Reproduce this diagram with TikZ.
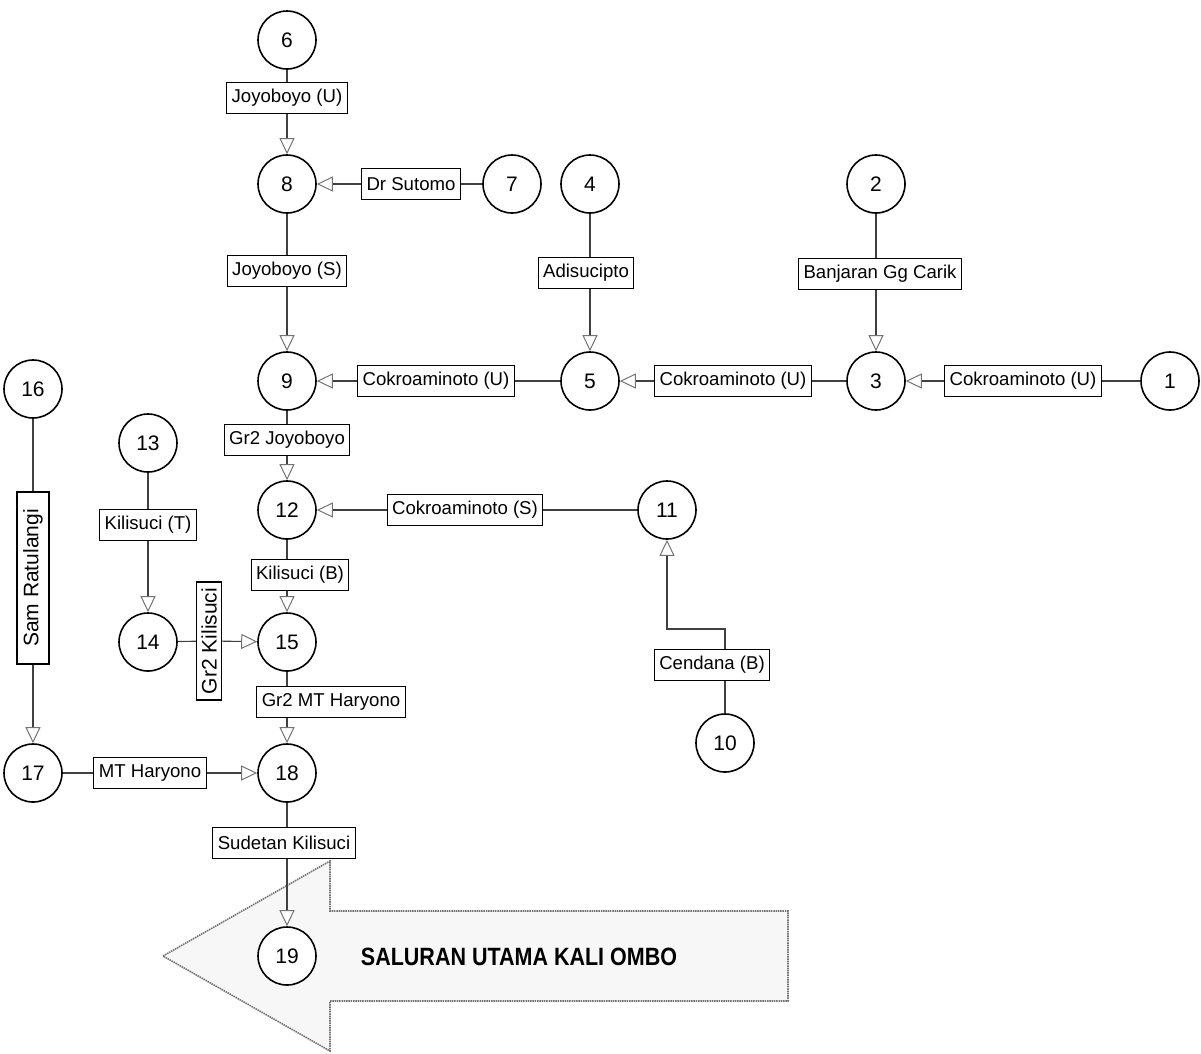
\documentclass[tikz,border=0pt]{standalone}
\usepackage{fontspec}
\setmainfont{Liberation Sans}
\newfontfamily\judulfont[FakeStretch=0.86]{Liberation Sans}
\usetikzlibrary{arrows.meta, calc, positioning}

\begin{document}
\begin{tikzpicture}[
    x=1pt, y=-1pt,
    simpul/.style={circle, draw, line width=1.6pt, fill=white, minimum size=58pt, inner sep=0pt, font=\fontsize{21}{23}\selectfont},
    ruas/.style={rectangle, draw, line width=1.1pt, fill=white, minimum height=31pt, inner xsep=5pt, inner ysep=2pt, font=\fontsize{18.6}{20}\selectfont},
    tegak/.style={ruas, rotate=90, font=\fontsize{21}{23}\selectfont},
    garis/.style={line width=1.1pt, draw=black!75},
    alir/.style={garis, -{Triangle[length=16pt, width=15pt, fill=white, color=black!55, line width=1pt]}},
    panah/.style={draw=black!55, line width=1.6pt, dash pattern=on 1.5pt off 0.8pt, fill=black!3}
]
    \useasboundingbox (0,0) rectangle (1201,1053);

    % 1. Panah besar saluran utama (digambar paling dulu, di belakang)
    \draw[panah] (163,956) -- (330,861) -- (330,911) -- (788,911) -- (788,1001)
        -- (330,1001) -- (330,1051) -- cycle;
    \node[font=\judulfont\bfseries\fontsize{25}{27}\selectfont] (kaliombo) at (519,957) {SALURAN UTAMA KALI OMBO};

    % 2. Titik simpul
    \node[simpul] (n6)  at (287,40)  {6};
    \node[simpul] (n8)  at (287,184) {8};
    \node[simpul] (n7)  at (512,184) {7};
    \node[simpul] (n4)  at (590,184) {4};
    \node[simpul] (n2)  at (876,184) {2};
    \node[simpul] (n9)  at (287,381) {9};
    \node[simpul] (n5)  at (590,381) {5};
    \node[simpul] (n3)  at (876,381) {3};
    \node[simpul] (n1)  at (1170,381) {1};
    \node[simpul] (n16) at (33,389)  {16};
    \node[simpul] (n13) at (148,443) {13};
    \node[simpul] (n12) at (287,510) {12};
    \node[simpul] (n11) at (667,510) {11};
    \node[simpul] (n14) at (148,642) {14};
    \node[simpul] (n15) at (287,642) {15};
    \node[simpul] (n10) at (725,743) {10};
    \node[simpul] (n17) at (33,773)  {17};
    \node[simpul] (n18) at (287,773) {18};
    \node[simpul] (n19) at (287,956) {19};

    % 3. Nama ruas saluran
    \node[ruas] (b6)  at (287,98)  {Joyoboyo (U)};
    \node[ruas] (b7)  at (411,184) {Dr Sutomo};
    \node[ruas] (b8)  at (287,271) {Joyoboyo (S)};
    \node[ruas] (b4)  at (586,273) {Adisucipto};
    \node[ruas] (b2)  at (880,274) {Banjaran Gg Carik};
    \node[ruas] (b9)  at (436,381) {Cokroaminoto (U)};
    \node[ruas] (b5)  at (733,381) {Cokroaminoto (U)};
    \node[ruas] (b1)  at (1023,381) {Cokroaminoto (U)};
    \node[ruas] (b9s) at (287,440) {Gr2 Joyoboyo};
    \node[ruas] (b13) at (148,525) {Kilisuci (T)};
    \node[ruas] (b11) at (465,510) {Cokroaminoto (S)};
    \node[ruas] (b12) at (300,575) {Kilisuci (B)};
    \node[tegak, minimum width=118pt, minimum height=25pt, inner ysep=0pt] (b14) at (209,641) {Gr2 Kilisuci};
    \node[ruas] (b15) at (331,702) {Gr2 MT Haryono};
    \node[tegak, minimum width=172pt, minimum height=32pt] (b16) at (33,578) {Sam Ratulangi};
    \node[ruas] (b10) at (712,665) {Cendana (B)};
    \node[ruas] (b17) at (150,773) {MT Haryono};
    \node[ruas] (b18) at (284,843) {Sudetan Kilisuci};

    % 4. Garis aliran: simpul -- ruas -> simpul
    \draw[garis] (n6) -- (b6);   \draw[alir] (b6) -- (n8);
    \draw[garis] (n7) -- (b7);   \draw[alir] (b7) -- (n8);
    \draw[garis] (n8) -- (b8);   \draw[alir] (b8) -- (n9);
    \draw[garis] (n4) -- (b4.north -| n4);   \draw[alir] (b4.south -| n4) -- (n5);
    \draw[garis] (n2) -- (b2.north -| n2);   \draw[alir] (b2.south -| n2) -- (n3);
    \draw[garis] (n1) -- (b1);   \draw[alir] (b1) -- (n3);
    \draw[garis] (n3) -- (b5);   \draw[alir] (b5) -- (n5);
    \draw[garis] (n5) -- (b9);   \draw[alir] (b9) -- (n9);
    \draw[garis] (n9) -- (b9s);  \draw[alir] (b9s) -- (n12);
    \draw[garis] (n11) -- (b11); \draw[alir] (b11) -- (n12);
    \draw[garis] (n12) -- (b12.north -| n12); \draw[alir] (b12.south -| n12) -- (n15);
    \draw[garis] (n13) -- (b13); \draw[alir] (b13) -- (n14);
    \draw[garis] (n14) -- (b14); \draw[alir] (b14) -- (n15);
    \draw[garis] (n15) -- (b15.north -| n15); \draw[alir] (b15.south -| n15) -- (n18);
    \draw[garis] (n16) -- (b16); \draw[alir] (b16) -- (n17);
    \draw[garis] (n17) -- (b17); \draw[alir] (b17) -- (n18);
    \draw[garis] (n18) -- (b18.north -| n18); \draw[alir] (b18.south -| n18) -- (n19);

    % Cendana (B) belok dulu sebelum masuk ke simpul 11
    \draw[garis] (n10) -- (b10.south -| n10);
    \draw[alir] (b10.north -| n10) -- ++(0,-20) -| (n11);

\end{tikzpicture}
\end{document}
